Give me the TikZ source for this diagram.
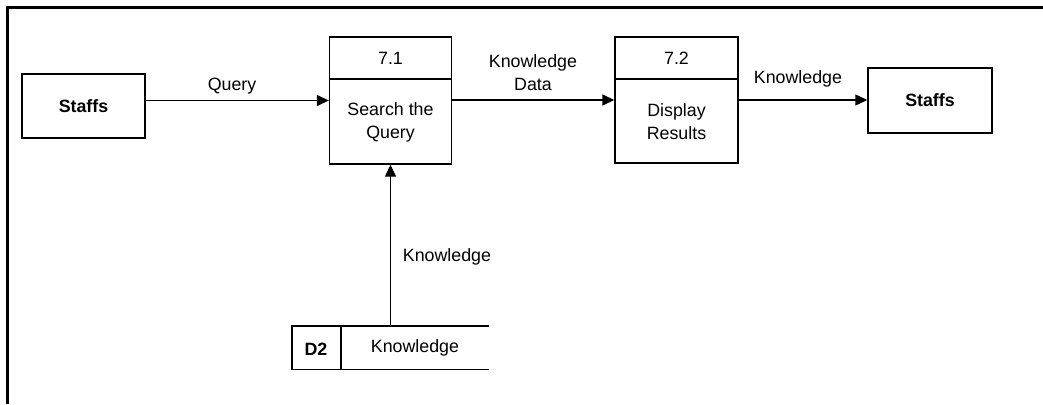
\documentclass[tikz,border=0pt]{standalone}
\usepackage{fontspec}
\setmainfont{Liberation Sans}
\usetikzlibrary{arrows.meta}
\begin{document}
\begin{tikzpicture}[x=1pt,y=-1pt,
  every node/.style={font=\fontsize{17.8}{23}\selectfont, inner sep=0pt},
  box/.style={draw, line width=1.4pt},
  arr/.style={line width=1.4pt, -{Triangle[length=12pt,width=11pt]}},
  lbl/.style={align=center}]
\useasboundingbox (0,0) rectangle (1043,404);
% frame
\draw[line width=3pt] (7,404) -- (7,8) -- (1043,8);
% nodes
\node[box, minimum width=123pt, minimum height=64pt, font=\fontsize{17.8}{23}\selectfont\bfseries] (sl) at (83.5,106) {Staffs};
\node[box, minimum width=122pt, minimum height=127pt] (p1) at (390.5,100.5) {};
\node[box, minimum width=123pt, minimum height=126pt] (p2) at (676.5,100) {};
\node[box, minimum width=124pt, minimum height=65pt, font=\fontsize{17.8}{23}\selectfont\bfseries] (sr) at (930,100.5) {Staffs};
\draw[line width=1.4pt] (p1.west |- 0,79) -- (p1.east |- 0,79);
\draw[line width=1.4pt] (p2.west |- 0,79) -- (p2.east |- 0,79);
\node (n1) at (390.5,58) {7.1};
\node (n2) at (676.5,58) {7.2};
\node[lbl] (t1) at (390.5,122) {Search the\\Query};
\node[lbl] (t2) at (676.5,122) {Display\\Results};
% data store
\node[minimum width=197pt, minimum height=43pt] (st) at (390.5,347.5) {};
\draw[line width=1.4pt] (st.north east) -- (st.north west) -- (st.south west) -- (st.south east);
\coordinate (dv) at (341,326);
\draw[line width=1.4pt] (dv) -- (dv |- st.south);
\node[font=\fontsize{17.8}{23}\selectfont\bfseries] (d2) at (316,349) {D2};
\node (sk) at (415,348) {Knowledge};
% flows
\draw[arr] (sl.east |- p1.west) -- (p1.west);
\draw[arr] (p1.east |- p2.west) -- (p2.west);
\draw[arr] (p2.east) -- (sr.west |- p2.east);
\draw[arr] (p1.south |- st.north) -- (p1.south);
% labels
\node (lq) at (232,86) {Query};
\node[lbl] (lkd) at (533,73) {Knowledge\\Data};
\node (lk) at (798,79) {Knowledge};
\node (lkv) at (447,257) {Knowledge};
\end{tikzpicture}
\end{document}
